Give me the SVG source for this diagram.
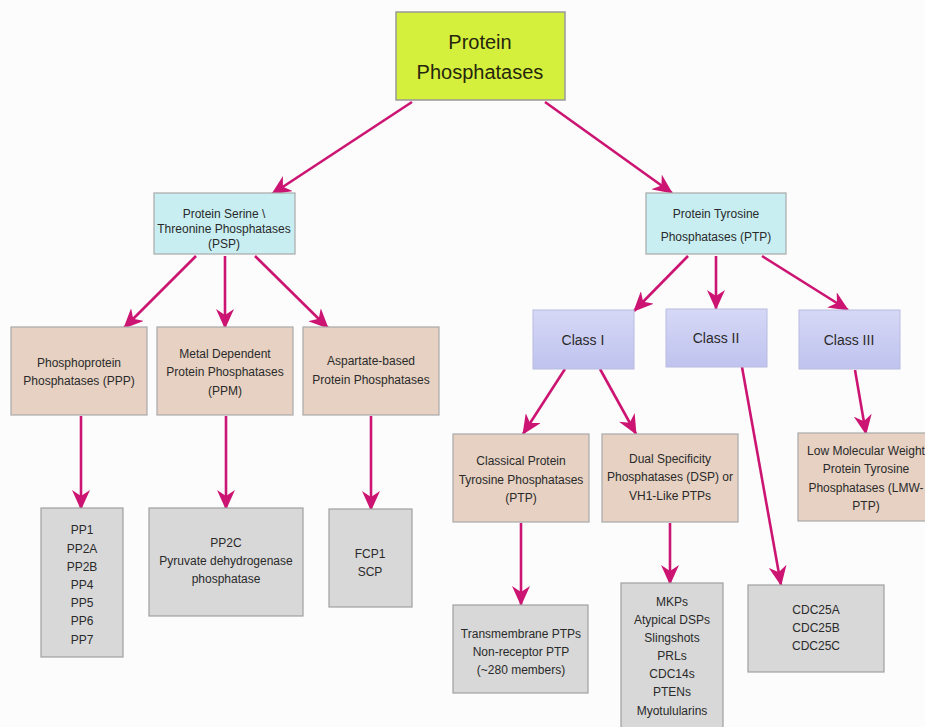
<svg xmlns="http://www.w3.org/2000/svg" width="925" height="727" viewBox="0 0 925 727">
<defs>
<style>
text{font-family:"Liberation Sans",Arial,sans-serif;font-size:12px;fill:#2a2a2a;text-anchor:middle}
.root{fill:#d5f03c;stroke:#999;stroke-width:1.5}
.cyan{fill:#c8eef2;stroke:#a8a8a8;stroke-width:1.2}
.tan{fill:#e6d1c2;stroke:#a8a8a8;stroke-width:1.2}
.gray{fill:#d8d8d8;stroke:#a0a0a0;stroke-width:1.2}
.cls{fill:url(#lav);stroke:#b8bce0;stroke-width:1}
.big{font-size:20px;fill:#26260e}
.ct{font-size:14px;fill:#2a2a2a}
#edges line{stroke:#cc1472;stroke-width:2.6;marker-end:url(#ah)}
</style>
<linearGradient id="lav" x1="0" y1="0" x2="0" y2="1">
<stop offset="0" stop-color="#d6d8f6"/>
<stop offset="1" stop-color="#bfc3ee"/>
</linearGradient>
<marker id="ah" markerUnits="userSpaceOnUse" viewBox="0 0 20 18" refX="19" refY="9" markerWidth="20" markerHeight="18" orient="auto">
<path d="M0,0 L20,9 L0,18 L6,9 Z" fill="#cc1472"/>
</marker>
</defs>
<rect width="925" height="727" fill="#fcfcfc"/>
<g id="edges">
<line x1="412" y1="102" x2="272" y2="194"/>
<line x1="545" y1="102" x2="672" y2="193"/>
<line x1="196" y1="256" x2="124" y2="328"/>
<line x1="225" y1="256" x2="225" y2="328"/>
<line x1="255" y1="256" x2="328" y2="328"/>
<line x1="688" y1="256" x2="634" y2="311"/>
<line x1="716" y1="256" x2="716" y2="309"/>
<line x1="762" y1="256" x2="848" y2="310"/>
<line x1="565" y1="369" x2="523" y2="434"/>
<line x1="600" y1="369" x2="636" y2="434"/>
<line x1="742" y1="367" x2="781" y2="585"/>
<line x1="855" y1="370" x2="866" y2="434"/>
<line x1="81" y1="416" x2="81" y2="509"/>
<line x1="226" y1="416" x2="226" y2="509"/>
<line x1="371" y1="416" x2="371" y2="510"/>
<line x1="521" y1="523" x2="521" y2="605"/>
<line x1="670" y1="523" x2="670" y2="584"/>
</g>
<g id="root"><rect class="root" x="396" y="12" width="169" height="88"/>
<text class="big" x="480" y="49">Protein</text><text class="big" x="480" y="79">Phosphatases</text></g>
<g id="psp"><rect class="cyan" x="154" y="193" width="141" height="61"/>
<text x="224" y="218">Protein Serine \</text><text x="224" y="233">Threonine Phosphatases</text><text x="224" y="248">(PSP)</text></g>
<g id="ptp"><rect class="cyan" x="646" y="193" width="140" height="61"/>
<text x="716" y="218">Protein Tyrosine</text><text x="716" y="241">Phosphatases (PTP)</text></g>
<g id="ppp"><rect class="tan" x="11" y="327" width="136" height="88"/>
<text x="79" y="367">Phosphoprotein</text><text x="79" y="385">Phosphatases (PPP)</text></g>
<g id="ppm"><rect class="tan" x="157" y="327" width="136" height="88"/>
<text x="225" y="358">Metal Dependent</text><text x="225" y="376">Protein Phosphatases</text><text x="225" y="395">(PPM)</text></g>
<g id="asp"><rect class="tan" x="303" y="327" width="136" height="88"/>
<text x="371" y="365">Aspartate-based</text><text x="371" y="384">Protein Phosphatases</text></g>
<g id="pplist"><rect class="gray" x="41" y="508" width="82" height="149"/>
<text x="82" y="534">PP1</text><text x="82" y="553">PP2A</text><text x="82" y="571">PP2B</text><text x="82" y="589">PP4</text><text x="82" y="607">PP5</text><text x="82" y="625">PP6</text><text x="82" y="644">PP7</text></g>
<g id="pp2c"><rect class="gray" x="149" y="508" width="154" height="108"/>
<text x="226" y="547">PP2C</text><text x="226" y="565">Pyruvate dehydrogenase</text><text x="226" y="583">phosphatase</text></g>
<g id="fcp"><rect class="gray" x="329" y="509" width="83" height="98"/>
<text x="370" y="558">FCP1</text><text x="370" y="576">SCP</text></g>
<g id="class1"><rect class="cls" x="533" y="310" width="101" height="59"/><text class="ct" x="583" y="345">Class I</text></g>
<g id="class2"><rect class="cls" x="666" y="309" width="101" height="58"/><text class="ct" x="716" y="343">Class II</text></g>
<g id="class3"><rect class="cls" x="799" y="310" width="101" height="59"/><text class="ct" x="849" y="345">Class III</text></g>
<g id="classical"><rect class="tan" x="453" y="434" width="136" height="88"/>
<text x="521" y="465">Classical Protein</text><text x="521" y="484">Tyrosine Phosphatases</text><text x="521" y="502">(PTP)</text></g>
<g id="dsp"><rect class="tan" x="602" y="434" width="136" height="88"/>
<text x="670" y="463">Dual Specificity</text><text x="670" y="481">Phosphatases (DSP) or</text><text x="670" y="500">VH1-Like PTPs</text></g>
<g id="lmw"><rect class="tan" x="798" y="433" width="136" height="88"/>
<text x="866" y="455">Low Molecular Weight</text><text x="866" y="473">Protein Tyrosine</text><text x="866" y="492">Phosphatases (LMW-</text><text x="866" y="510">PTP)</text></g>
<g id="trans"><rect class="gray" x="453" y="605" width="135" height="88"/>
<text x="521" y="638">Transmembrane PTPs</text><text x="521" y="656">Non-receptor PTP</text><text x="521" y="674">(~280 members)</text></g>
<g id="mkps"><rect class="gray" x="621" y="583" width="102" height="150"/>
<text x="672" y="606">MKPs</text><text x="672" y="624">Atypical DSPs</text><text x="672" y="642">Slingshots</text><text x="672" y="660">PRLs</text><text x="672" y="678">CDC14s</text><text x="672" y="696">PTENs</text><text x="672" y="715">Myotulularins</text></g>
<g id="cdc25"><rect class="gray" x="748" y="585" width="136" height="87"/>
<text x="816" y="614">CDC25A</text><text x="816" y="632">CDC25B</text><text x="816" y="650">CDC25C</text></g>
</svg>
